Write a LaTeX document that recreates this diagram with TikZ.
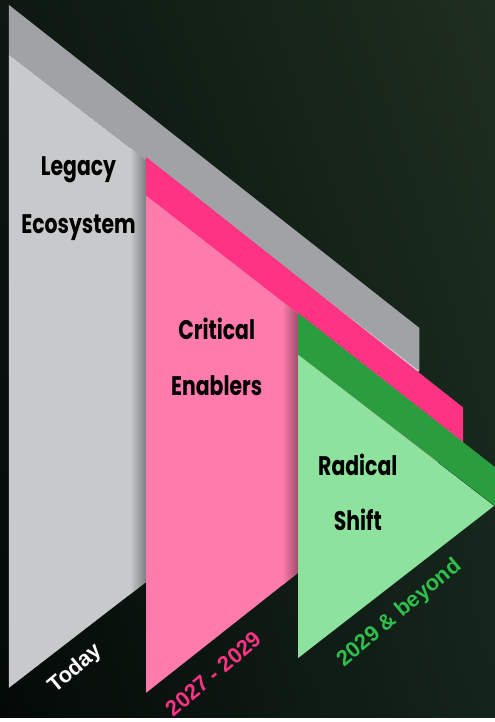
\documentclass[tikz,border=0pt]{standalone}
\usepackage{fontspec}
\usetikzlibrary{shadings}
\setmainfont{Poppins}[FakeStretch=0.76]
\newfontfamily\datefont{Liberation Sans}

\definecolor{bgul}{HTML}{0C1811}
\definecolor{bgll}{HTML}{040907}
\definecolor{bgur}{HTML}{1E2E1F}
\definecolor{bglr}{HTML}{14241C}
\definecolor{graytop}{HTML}{A1A2A5}
\definecolor{grayface}{HTML}{C8C9CB}
\definecolor{pinktop}{HTML}{FE3383}
\definecolor{pinkface}{HTML}{FF7BAB}
\definecolor{greentop}{HTML}{2A9E3E}
\definecolor{greenface}{HTML}{8DE29D}
\definecolor{greentext}{HTML}{30BF4C}

\begin{document}
\begin{tikzpicture}[x=1pt, y=-1pt, line join=round,
		stage/.style={font=\fontsize{27}{27}\selectfont\bfseries, text=black, anchor=base},
		when/.style={font=\datefont\fontsize{22}{22}\selectfont\bfseries, rotate=40}]
				
				\def\ga{9}
				\def\pa{147}
				\def\ra{300}
				
				% dark background
				\shade[upper left=bgul, lower left=bgll, upper right=bgur, lower right=bglr]
					(0,0) rectangle (498,722);
				
				% legacy
				\fill[graytop] (\ga,5) -- (422,330) -- (422,373) -- (\ga,55) -- cycle;
				\fill[grayface] (\ga,55) -- (422,373) -- (\ga,692) -- cycle;
				\begin{scope}
					\clip (\ga,55) -- (422,373) -- (\ga,692) -- cycle;
					\shade[left color=grayface, right color=grayface!62!black] (\pa-16,0) rectangle (\pa,722);
				\end{scope}
				
				% enablers
				\fill[pinktop] (\pa,158) -- (466,410) -- (466,445) -- (\pa,197) -- cycle;
				\fill[pinkface] (\pa,197) -- (466,445) -- (\pa,697) -- cycle;
				\begin{scope}
					\clip (\pa,197) -- (466,445) -- (\pa,697) -- cycle;
					\shade[left color=pinkface, right color=pinkface!62!black] (\ra-16,0) rectangle (\ra,722);
				\end{scope}
				
				% shift
				\fill[greentop] (\ra,315) -- (498,470) -- (498,509) -- (\ra,357) -- cycle;
				\fill[greenface] (\ra,357) -- (497,509) -- (\ra,662) -- cycle;
				
				\node[stage] (legacy) at (79,177) {Legacy};
				\node[stage] (ecosystem) at (79,235) {Ecosystem};
				\node[stage] (critical) at (218,342) {Critical};
				\node[stage] (enablers) at (218,398) {Enablers};
				\node[stage] (radical) at (360,478) {Radical};
				\node[stage] (shift) at (360,534) {Shift};
				
				\node[when, text=white] (today) at (76,673) {Today};
				\node[when, text=pinktop] (near) at (215,678) {2027 - 2029};
				\node[when, text=greentext] (beyond) at (402,617) {2029 \& beyond};
\end{tikzpicture}
\end{document}
